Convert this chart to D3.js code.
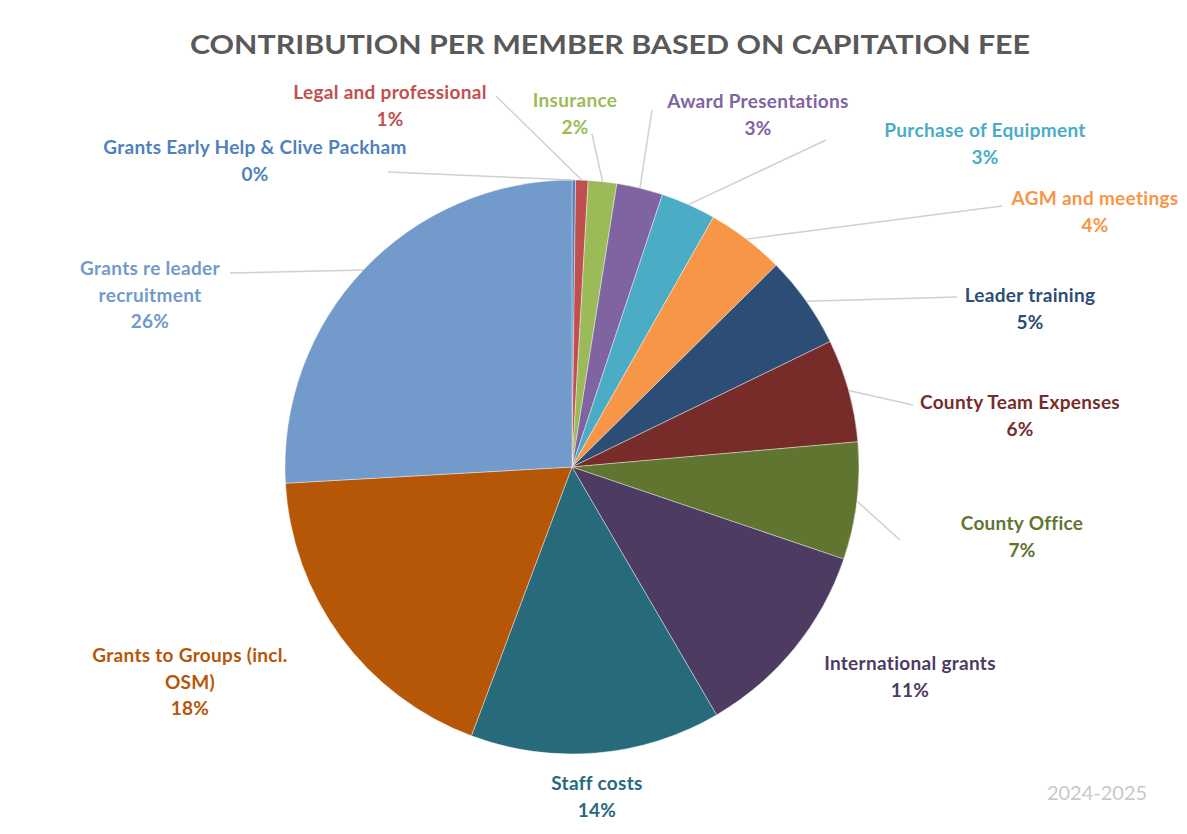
<!DOCTYPE html>
<html>
<head>
<meta charset="utf-8">
<script src="https://cdn.jsdelivr.net/npm/d3@7"></script>
<style>
  body { margin: 0; background: #fff; }
  svg { display: block; }
</style>
</head>
<body>
<svg id="chart"></svg>
<script>
// categories, in Excel order (clockwise from 12 o'clock)
var categories = [
  "Grants Early Help & Clive Packham",
  "Legal and professional",
  "Insurance",
  "Award Presentations",
  "Purchase of Equipment",
  "AGM and meetings",
  "Leader training",
  "County Team Expenses",
  "County Office",
  "International grants",
  "Staff costs",
  "Grants to Groups (incl.\nOSM)",
  "Grants re leader\nrecruitment"
]
// share of fee
var values = [0.2, 0.7, 1.6, 2.6, 3.1, 4.4, 5.2, 5.8, 6.6, 11.4, 14.1, 18.4, 25.9]

var colors = ["#4F81BD", "#C0504D", "#9BBB59", "#8064A2", "#4BACC6", "#F79646",
              "#2C4D75", "#772C2A", "#5F7530", "#4D3B62", "#276A7C", "#B65708", "#729ACA"]

// label centre (x, y of first line) and leader line start, per slice
var labelPos = [[255,147],[390,92],[575,100],[758,101],[985,130],[1095,198],
                [1030,295],[1020,402],[1022,523],[910,663],[597,783],[190,655],[150,268]]
var leaderStart = [[388,172],[496,96],[592,134],[652,110],[826,140],[1002,206],
                   [957,297],[913,405],[900,540],null,null,null,[230,273]]

var W = 1187, H = 834
var cx = 572, cy = 467, R = 287

var svg = d3.select("#chart").attr("width", W).attr("height", H)

var total = d3.sum(values)
var data = categories.map(function(c, i){ return {name: c, value: values[i], i: i} })

var pie = d3.pie().sort(null).value(d => d.value)
var arc = d3.arc().innerRadius(0).outerRadius(R)
var arcs = pie(data)

// title
svg.append("text")
   .text("CONTRIBUTION PER MEMBER BASED ON CAPITATION FEE")
   .attr("x", 610).attr("y", 54)
   .attr("text-anchor", "middle")
   .attr("textLength", 840)
   .attr("lengthAdjust", "spacingAndGlyphs")
   .style("font-family", "Lato, 'Open Sans', sans-serif")
   .style("font-weight", "bold")
   .style("font-size", "27px")
   .style("fill", "#595959")

var g = svg.append("g").attr("transform", "translate(" + cx + "," + cy + ")")

g.selectAll("path.slice")
  .data(arcs)
  .enter()
  .append("path")
  .attr("class", "slice")
  .attr("d", arc)
  .attr("fill", d => colors[d.data.i])
  .attr("stroke", "#fff")
  .attr("stroke-width", 0.4)

// leader lines
arcs.forEach(function(a){
  var s = leaderStart[a.data.i]
  if (!s) return
  var mid = (a.startAngle + a.endAngle) / 2
  var ex = cx + R * Math.sin(mid), ey = cy - R * Math.cos(mid)
  svg.append("line")
     .attr("x1", s[0]).attr("y1", s[1])
     .attr("x2", ex).attr("y2", ey)
     .attr("stroke", "#d0d0d0")
     .attr("stroke-width", 1.5)
})

// data labels
var labels = svg.selectAll("text.lbl")
  .data(data)
  .enter()
  .append("text")
  .attr("class", "lbl")
  .attr("text-anchor", "middle")
  .style("font-family", "Lato, 'Open Sans', sans-serif")
  .style("font-weight", "bold")
  .style("font-size", "19px")
  .style("letter-spacing", "0.3px")
  .style("fill", d => colors[d.i])

labels.each(function(d){
  var lines = d.name.split("\n")
  lines.push(Math.round(d.value / total * 100) + "%")
  var p = labelPos[d.i]
  var t = d3.select(this)
  lines.forEach(function(l, k){
    t.append("tspan")
     .attr("x", p[0])
     .attr("y", p[1] + 7 + k * 26.5)
     .text(l)
  })
})

svg.append("text")
   .text("2024-2025")
   .attr("x", 1097).attr("y", 800)
   .attr("text-anchor", "middle")
   .style("font-family", "Lato, 'Open Sans', sans-serif")
   .style("font-size", "20px")
   .style("fill", "#c8c8c8")
</script>
</body>
</html>
